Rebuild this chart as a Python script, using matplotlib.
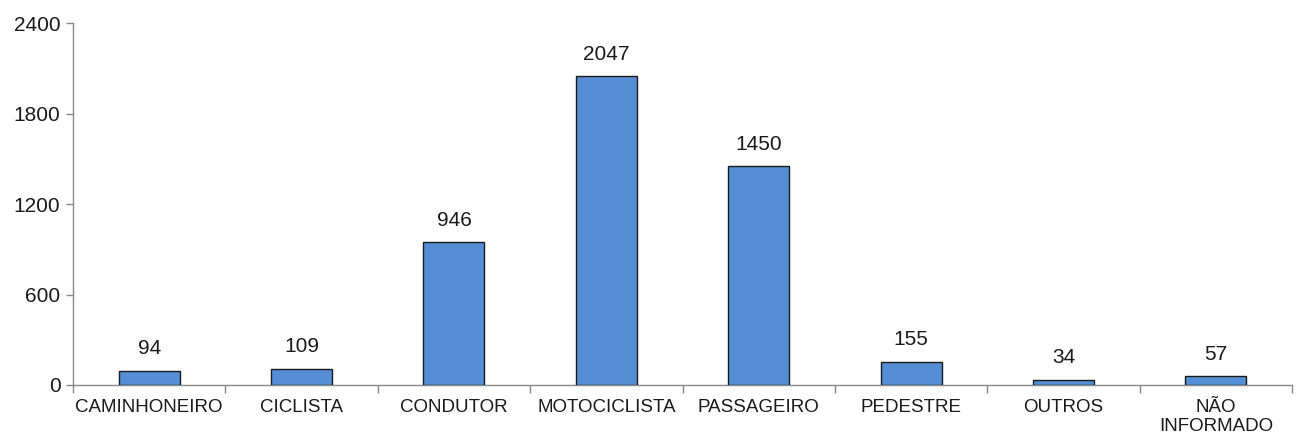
import numpy as np
import matplotlib
matplotlib.use('Agg')
import matplotlib.pyplot as plt

categorias = ['CAMINHONEIRO', 'CICLISTA', 'CONDUTOR', 'MOTOCICLISTA', 'PASSAGEIRO',
              'PEDESTRE', 'OUTROS', 'NÃO\nINFORMADO']
valores = [94, 109, 946, 2047, 1450, 155, 34, 57]
yticks = [0, 600, 1200, 1800, 2400]

plt.rcParams['font.family'] = ['Liberation Sans', 'DejaVu Sans']

fig = plt.figure(figsize=(12.96, 4.36), dpi=100)
ax = fig.add_axes([0.0563, 0.117, 0.9407, 0.830])

x = np.arange(len(categorias))
bars = ax.bar(x, valores, width=0.4, color='#558ED5', edgecolor='#1a1a1a', linewidth=1.0, zorder=3)

for b, v in zip(bars, valores):
    ax.annotate(str(v), (b.get_x() + b.get_width() / 2, v), xytext=(0, 9),
                textcoords='offset points', ha='center', va='bottom',
                fontsize=15, color='#1a1a1a')

ax.set_xlim(-0.5, len(categorias) - 0.5)
ax.set_ylim(0, 2400)
ax.set_yticks(yticks)
ax.set_yticklabels([str(t) for t in yticks], fontsize=15, color='#1a1a1a')

# category labels centred, tick marks between categories
ax.set_xticks(x)
ax.set_xticklabels(categorias, fontsize=13.5, color='#1a1a1a', linespacing=1.15)
ax.tick_params(axis='x', length=0, pad=10)
ax.set_xticks(np.arange(len(categorias) + 1) - 0.5, minor=True)
ax.tick_params(axis='x', which='minor', length=6, color='#888888', width=1)
ax.tick_params(axis='y', length=5, color='#888888', width=1, pad=4)

for s in ['top', 'right']:
    ax.spines[s].set_visible(False)
for s in ['left', 'bottom']:
    ax.spines[s].set_color('#888888')
    ax.spines[s].set_linewidth(1)

plt.savefig('out.png', dpi=100)
